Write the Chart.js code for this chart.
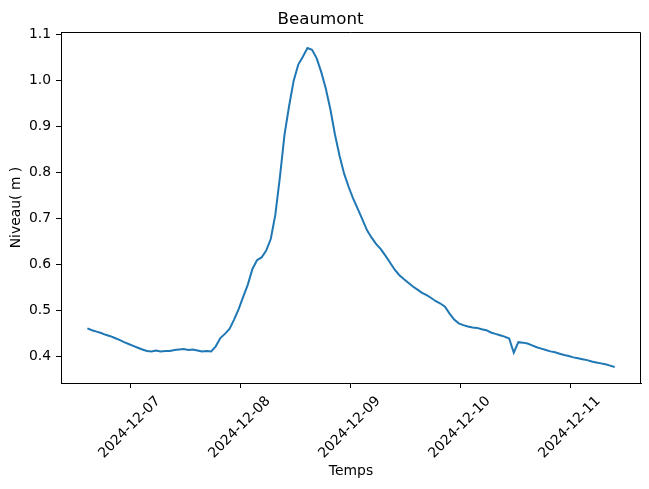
<!DOCTYPE html>
<html>
<head>
<meta charset="utf-8">
<script src="https://cdn.jsdelivr.net/npm/chart.js@4.4.1/dist/chart.umd.min.js"></script>
<style>
  html, body { margin: 0; padding: 0; background: #fff; }
  canvas { display: block; }
</style>
</head>
<body>
<canvas id="levelChart" width="649" height="489"></canvas>
<script>
// water level readings, one per hour from the first timestamp
const startTime = '2024-12-06T14:40';
const stepHours = 1;
const levels = [
    0.461, 0.457, 0.454, 0.451, 0.447, 0.444, 0.440, 0.436, 0.431, 0.427,
    0.423, 0.419, 0.415, 0.412, 0.411, 0.413, 0.411, 0.412, 0.412, 0.414,
    0.415, 0.416, 0.414, 0.415, 0.413, 0.411, 0.412, 0.411, 0.422, 0.440,
    0.449, 0.460, 0.480, 0.503, 0.530, 0.556, 0.590, 0.609, 0.615, 0.630,
    0.655, 0.708, 0.790, 0.882, 0.944, 0.999, 1.034, 1.051, 1.070, 1.066,
    1.048, 1.018, 0.982, 0.937, 0.882, 0.836, 0.797, 0.768, 0.742, 0.720,
    0.697, 0.674, 0.658, 0.644, 0.633, 0.619, 0.604, 0.589, 0.577, 0.568,
    0.560, 0.552, 0.545, 0.538, 0.533, 0.527, 0.520, 0.515, 0.508, 0.493,
    0.480, 0.472, 0.468, 0.465, 0.463, 0.462, 0.459, 0.457, 0.452, 0.449,
    0.446, 0.443, 0.439, 0.408, 0.431, 0.430, 0.428, 0.424, 0.420, 0.417,
    0.414, 0.411, 0.409, 0.406, 0.403, 0.401, 0.398, 0.396, 0.394, 0.392,
    0.389, 0.387, 0.385, 0.383, 0.380, 0.377
];
const tickDates = ['2024-12-07', '2024-12-08', '2024-12-09', '2024-12-10', '2024-12-11'];
const yTicks = [0.4, 0.5, 0.6, 0.7, 0.8, 0.9, 1.0, 1.1];

// hours relative to the first tick date
const origin = new Date(tickDates[0] + 'T00:00').getTime();
const toHours = s => (new Date(s).getTime() - origin) / 3600000;
const firstHour = toHours(startTime);
const points = levels.map((v, i) => ({ x: firstHour + i * stepHours, y: v }));
const tickHours = tickDates.map(d => toHours(d + 'T00:00'));

// matplotlib style 5% margins
const xSpan = (levels.length - 1) * stepHours;
const xMin = firstHour - xSpan * 0.05;
const xMax = firstHour + xSpan * 1.05;
const yLo = Math.min(...levels), yHi = Math.max(...levels);
const yMin = yLo - (yHi - yLo) * 0.05;
const yMax = yHi + (yHi - yLo) * 0.05;

Chart.defaults.font.family = "'DejaVu Sans', sans-serif";
Chart.defaults.color = '#000';

// top and right spines (left and bottom come from the axes)
const frame = {
    id: 'frame',
    afterDraw(chart) {
        const { ctx, chartArea: a } = chart;
        ctx.save();
        ctx.strokeStyle = '#000';
        ctx.lineWidth = 1;
        ctx.beginPath();
        ctx.moveTo(a.left, Math.round(a.top) + 0.5);
        ctx.lineTo(Math.round(a.right) - 0.5, Math.round(a.top) + 0.5);
        ctx.lineTo(Math.round(a.right) - 0.5, a.bottom);
        ctx.stroke();
        ctx.restore();
    }
};

new Chart(document.getElementById('levelChart'), {
    type: 'line',
    data: {
        datasets: [{
            data: points,
            borderColor: '#1f77b4',
            borderWidth: 2,
            pointRadius: 0,
            tension: 0,
            fill: false
        }]
    },
    options: {
        responsive: false,
        animation: false,
        layout: { padding: { left: 0, right: 8, top: 0, bottom: 0 } },
        plugins: {
            legend: { display: false },
            tooltip: { enabled: false },
            title: {
                display: true,
                text: 'Beaumont',
                font: { size: 16.67, weight: 'normal' },
                color: '#000',
                padding: { top: 10, bottom: 2 }
            }
        },
        scales: {
            x: {
                type: 'linear',
                min: xMin,
                max: xMax,
                afterFit: s => { s.height = 106; },
                afterBuildTicks: s => { s.ticks = tickHours.map(v => ({ value: v })); },
                grid: { drawOnChartArea: false, drawTicks: true, tickLength: 5, color: '#000' },
                border: { display: true, color: '#000', width: 1 },
                ticks: {
                    autoSkip: false,
                    minRotation: 45,
                    maxRotation: 45,
                    padding: 5,
                    labelOffset: 28,
                    font: { size: 13.9 },
                    callback: (v, i) => tickDates[i]
                },
                title: {
                    display: true,
                    text: 'Temps',
                    font: { size: 13.9 },
                    padding: { top: 0, bottom: 9 }
                }
            },
            y: {
                min: yMin,
                max: yMax,
                afterFit: s => { s.width = 61; },
                afterBuildTicks: s => { s.ticks = yTicks.map(v => ({ value: v })); },
                grid: { drawOnChartArea: false, drawTicks: true, tickLength: 5, color: '#000' },
                border: { display: true, color: '#000', width: 1 },
                ticks: {
                    padding: 5,
                    font: { size: 13.9 },
                    callback: v => v.toFixed(1)
                },
                title: {
                    display: true,
                    text: 'Niveau( m )',
                    font: { size: 13.9 },
                    padding: { top: 8, bottom: 0 }
                }
            }
        }
    },
    plugins: [frame]
});
</script>
</body>
</html>
